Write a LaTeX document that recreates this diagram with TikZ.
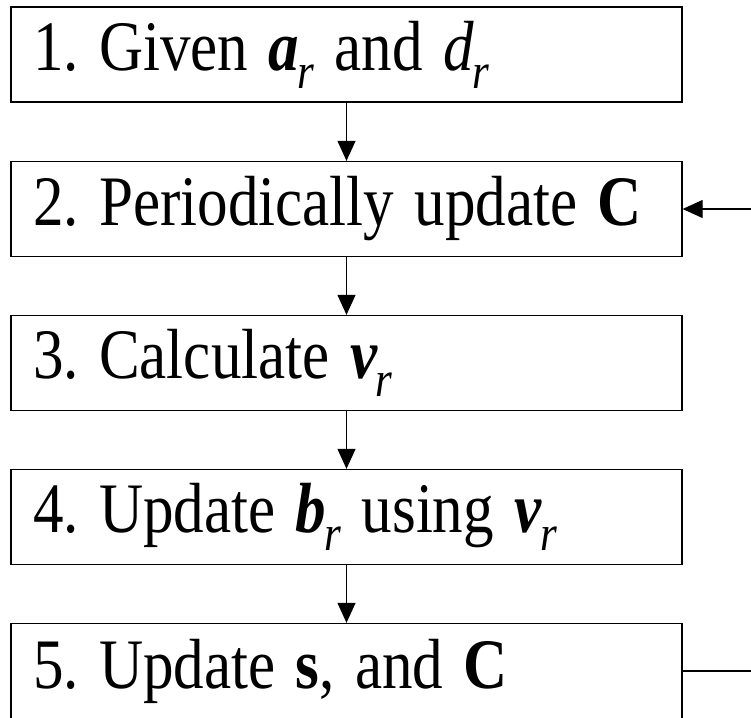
\documentclass[tikz,border=0pt]{standalone}
\usepackage{fontspec}
\setmainfont{Liberation Serif}
\usetikzlibrary{arrows.meta}
\newcommand{\sbr}{\raisebox{-0.25em}{\fontsize{50}{50}\selectfont\itshape r}}
\newcommand{\bi}[1]{\textbf{\textit{#1}}}
\tikzset{
  stepbox/.style={draw, line width=1.3pt, rectangle, minimum height=95pt,
    text width=627pt, inner xsep=22pt, inner ysep=0pt, align=left,
    font=\fontsize{71}{84}\selectfont\frenchspacing},
  flow/.style={line width=1.2pt, -{Triangle[length=20pt,width=18pt]}},
  plain/.style={line width=1.2pt}
}
\newcommand{\tx}[1]{\scalebox{0.86}[1]{#1}}
\begin{document}
\begin{tikzpicture}[x=1pt,y=-1pt]
\useasboundingbox (0,0) rectangle (751,717);
\node[stepbox] (s1) at (346.5,54.5) {\tx{1. Given \bi{a}\kern-2pt\sbr\ and \textit{d}\kern-2pt\sbr}};
\node[stepbox] (s2) at (346.5,209) {\tx{2. Periodically update \textbf{C}}};
\node[stepbox] (s3) at (346.5,363) {\tx{3. Calculate \bi{v}\kern-2pt\sbr}};
\node[stepbox] (s4) at (346.5,517) {\tx{4. Update \bi{b}\kern-2pt\sbr\ using \bi{v}\kern-2pt\sbr}};
\node[stepbox] (s5) at (346.5,671) {\tx{5. Update \textbf{s}, and \textbf{C}}};
\coordinate (fbin) at (751,209);
\coordinate (fbout) at (751,671);
\draw[flow] (s1) -- (s2);
\draw[flow] (s2) -- (s3);
\draw[flow] (s3) -- (s4);
\draw[flow] (s4) -- (s5);
\draw[flow] (fbin) -- (s2.east);
\draw[plain] (s5.east) -- (fbout);
\end{tikzpicture}
\end{document}
